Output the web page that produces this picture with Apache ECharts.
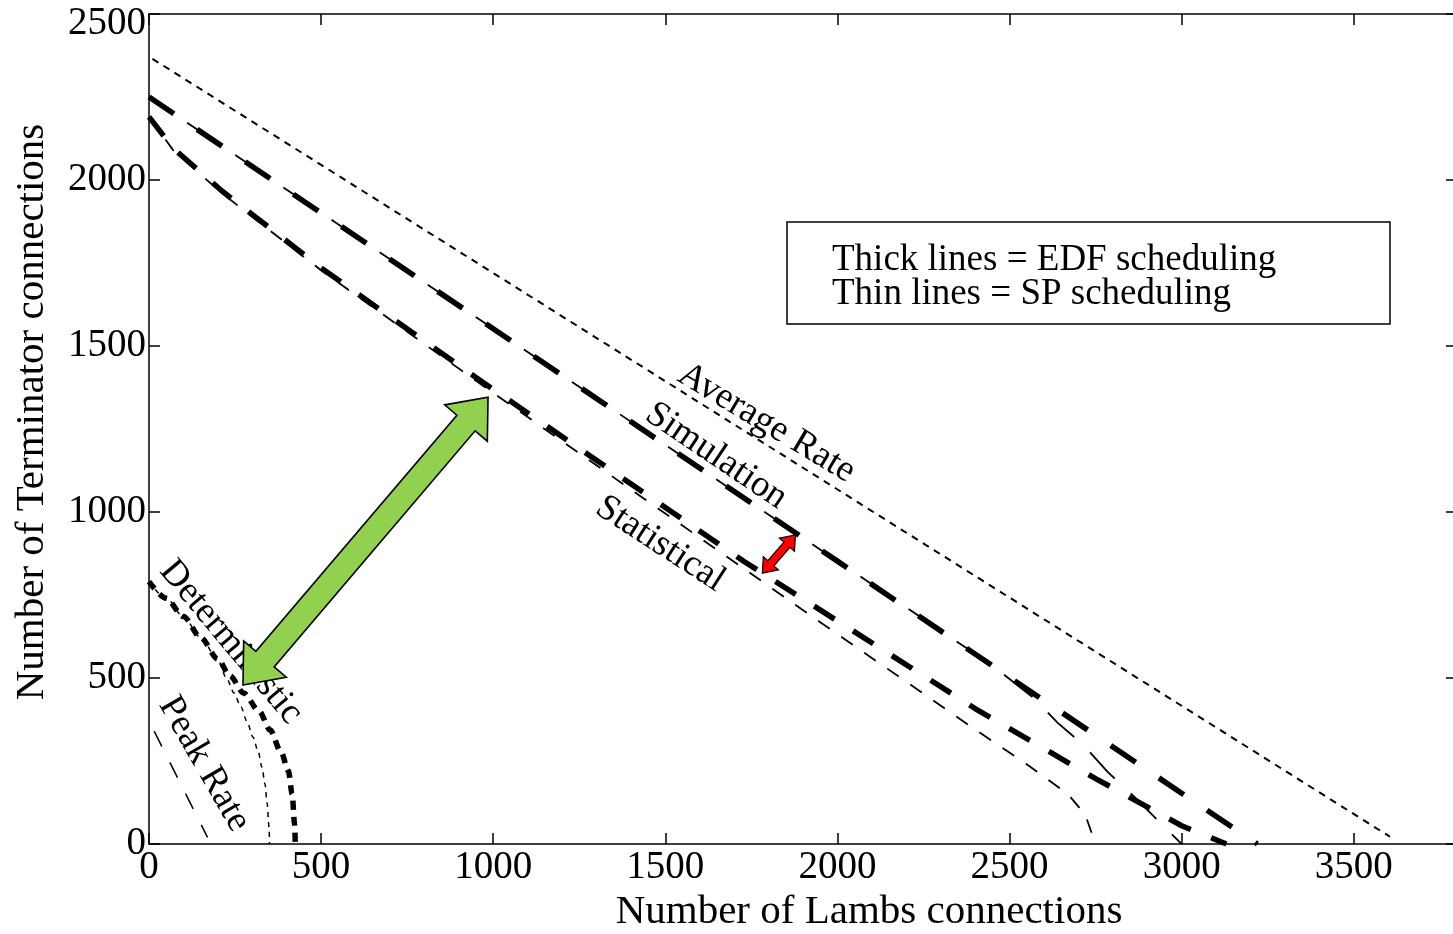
<!DOCTYPE html>
<html>
<head>
<meta charset="utf-8">
<script src="https://cdn.jsdelivr.net/npm/echarts@6/dist/echarts.min.js"></script>
<style>
  html, body { margin: 0; padding: 0; background: #fff; }
  #main { width: 1453px; height: 934px; }
</style>
</head>
<body>
<div id="main"></div>
<script>
// x = Lambs connections, y = Terminator connections
var averageRate = [[10, 2365], [3605, 22]];
var simulationEDF = [[0, 2250], [1000, 1552], [2000, 852], [2500, 502], [3000, 153], [3220, 0]];
var simulationSP = [[0, 2250], [1000, 1552], [2000, 852], [2450, 538], [2570, 440], [2640, 365], [2715, 298], [2785, 217], [2860, 145], [2930, 72], [3000, 0]];
var statisticalEDF = [[0, 2190], [70, 2096], [212, 1967], [500, 1735], [950, 1405], [1730, 850], [2400, 408], [2750, 197], [3000, 55], [3130, 0]];
var statisticalSP = [[0, 2190], [70, 2090], [212, 1960], [500, 1728], [950, 1395], [1730, 828], [1950, 668], [2400, 345], [2550, 240], [2670, 150], [2720, 88], [2750, 0]];
var deterministicEDF = [[0, 790], [50, 740], [100, 685], [150, 622], [200, 557], [235, 507], [275, 455], [320, 400], [352, 343], [384, 276], [405, 220], [416, 150], [423, 60], [425, 0]];
var deterministicSP = [[0, 790], [50, 740], [100, 685], [150, 622], [200, 555], [225, 500], [247, 455], [267, 413], [285, 368], [302, 322], [317, 280], [328, 232], [337, 181], [343, 124], [349, 48], [350, 0]];
var peakRate = [[15, 340], [170, 20]];

// curve labels: text, data position, angle (deg, clockwise)
var curveLabels = [
  { text: 'Average Rate', at: [1794, 1268], angle: 31 },
  { text: 'Simulation', at: [1648, 1169], angle: 34 },
  { text: 'Statistical', at: [1485, 904], angle: 33 },
  { text: 'Deterministic', at: [238, 608], angle: 50 },
  { text: 'Peak Rate', at: [160, 241], angle: 60 }
];
// annotation arrows, in data coordinates
var greenArrow = [[273, 479], [985, 1346]];
var redArrow = [[1782, 816], [1878, 931]];

var serif = '"Liberation Serif", "Times New Roman", serif';

function lineSeries(name, data, width, dash, extra) {
  var s = {
    name: name,
    type: 'line',
    data: data,
    showSymbol: false,
    symbol: 'none',
    silent: true,
    lineStyle: { color: '#000', width: width, type: dash, cap: 'butt' }
  };
  if (extra) {
    for (var k in extra) s[k] = extra[k];
  }
  return s;
}

var axisCommon = {
  type: 'value',
  axisLine: { show: true, onZero: false, lineStyle: { color: '#000', width: 1.5 } },
  axisTick: { show: true, inside: true, length: 11, lineStyle: { color: '#000', width: 1.5 } },
  splitLine: { show: false }
};

function plain(v) { return String(v); }
// the top y label sits a little lower than its tick in the original
function yLabel(v) { return v === 2500 ? '{top|2500}' : String(v); }

var option = {
  animation: false,
  backgroundColor: '#fff',
  grid: { left: 149, top: 14, bottom: 90, right: -4, containLabel: false, outerBoundsMode: 'none' },
  xAxis: [
    Object.assign({}, axisCommon, {
      min: 0, max: 3800, interval: 500, position: 'bottom',
      name: 'Number of Lambs connections',
      nameLocation: 'middle',
      nameGap: 45,
      nameTextStyle: { fontFamily: serif, fontSize: 41, color: '#000', padding: [0, 0, 0, 132] },
      axisLabel: { fontFamily: serif, fontSize: 39, color: '#000', margin: 4, showMaxLabel: false, formatter: plain }
    }),
    Object.assign({}, axisCommon, {
      min: 0, max: 3800, interval: 500, position: 'top',
      axisLabel: { show: false }
    })
  ],
  yAxis: [
    Object.assign({}, axisCommon, {
      min: 0, max: 2500, interval: 500, position: 'left',
      name: 'Number of Terminator connections',
      nameLocation: 'middle',
      nameGap: 96,
      nameTextStyle: { fontFamily: serif, fontSize: 41, color: '#000', padding: [0, 0, 0, 34] },
      axisLabel: {
        fontFamily: serif, fontSize: 39, color: '#000', margin: 3, formatter: yLabel,
        rich: { top: { fontFamily: serif, fontSize: 39, color: '#000', padding: [20, 0, 0, 0] } }
      }
    }),
    Object.assign({}, axisCommon, {
      min: 0, max: 2500, interval: 500, position: 'right',
      axisLabel: { show: false }
    })
  ],
  series: [
    lineSeries('Average Rate', averageRate, 2, [7, 6]),
    lineSeries('Simulation EDF', simulationEDF, 5.5, [30, 28]),
    lineSeries('Simulation SP', simulationSP, 1.8, [36, 22], { lineStyle: { color: '#000', width: 1.8, type: [36, 22], dashOffset: 12 } }),
    lineSeries('Statistical EDF', statisticalEDF, 5.5, [24, 22]),
    lineSeries('Statistical SP', statisticalSP, 1.8, [14, 14]),
    lineSeries('Deterministic EDF', deterministicEDF, 5.5, [9, 7], { smooth: 0.3, smoothMonotone: 'x' }),
    lineSeries('Deterministic SP', deterministicSP, 1.5, [5, 5], { smooth: 0.3, smoothMonotone: 'x' }),
    lineSeries('Peak Rate', peakRate, 1.5, [17, 18])
  ]
};

var chartDom = document.getElementById('main');
var myChart = echarts.init(chartDom, null, { renderer: 'canvas' });
myChart.setOption(option);

function toPx(p) {
  return myChart.convertToPixel({ gridIndex: 0 }, p);
}

function doubleArrow(a, b, shaftHalf, headHalf, headLen) {
  var dx = b[0] - a[0], dy = b[1] - a[1];
  var len = Math.sqrt(dx * dx + dy * dy);
  var ux = dx / len, uy = dy / len;
  var nx = -uy, ny = ux;
  function pt(base, along, side) {
    return [base[0] + ux * along + nx * side, base[1] + uy * along + ny * side];
  }
  return [
    a,
    pt(a, headLen, headHalf),
    pt(a, headLen, shaftHalf),
    pt(b, -headLen, shaftHalf),
    pt(b, -headLen, headHalf),
    b,
    pt(b, -headLen, -headHalf),
    pt(b, -headLen, -shaftHalf),
    pt(a, headLen, -shaftHalf),
    pt(a, headLen, -headHalf)
  ];
}

var graphics = [];

curveLabels.forEach(function (l) {
  var p = toPx(l.at);
  graphics.push({
    type: 'text',
    x: p[0], y: p[1],
    rotation: -l.angle * Math.PI / 180,
    z: 10,
    style: {
      text: l.text,
      font: '37px ' + serif,
      fill: '#000',
      align: 'center',
      verticalAlign: 'middle'
    }
  });
});

graphics.push({
  type: 'polygon',
  z: 20,
  shape: { points: doubleArrow(toPx(greenArrow[0]), toPx(greenArrow[1]), 12, 28, 34) },
  style: { fill: '#92d050', stroke: '#000', lineWidth: 1.6 }
});
graphics.push({
  type: 'polygon',
  z: 20,
  shape: { points: doubleArrow(toPx(redArrow[0]), toPx(redArrow[1]), 4, 10, 13) },
  style: { fill: '#ff0000', stroke: '#000', lineWidth: 1.2 }
});

// note box
graphics.push({
  type: 'rect',
  z: 15,
  shape: { x: 787, y: 222, width: 603, height: 102 },
  style: { fill: '#fff', stroke: '#000', lineWidth: 1.5 }
});
graphics.push({
  type: 'text', z: 16, x: 832, y: 260,
  style: { text: 'Thick lines = EDF scheduling', font: '37px ' + serif, fill: '#000', verticalAlign: 'middle' }
});
graphics.push({
  type: 'text', z: 16, x: 832, y: 294,
  style: { text: 'Thin lines = SP scheduling', font: '37px ' + serif, fill: '#000', verticalAlign: 'middle' }
});

myChart.setOption({ graphic: graphics });
</script>
</body>
</html>
